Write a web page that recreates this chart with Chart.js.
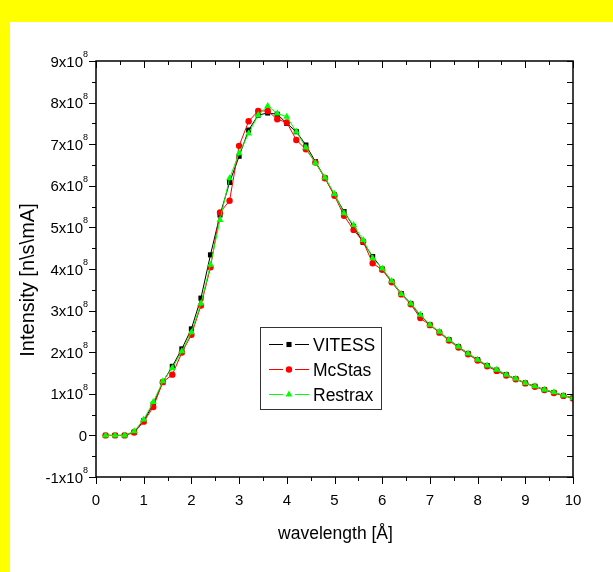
<!DOCTYPE html>
<html>
<head>
<meta charset="utf-8">
<title>Intensity vs wavelength</title>
<script src="https://cdn.jsdelivr.net/npm/chart.js@4/dist/chart.umd.min.js"></script>
<style>
  body { margin: 0; background: #fff; }
  canvas { display: block; }
</style>
</head>
<body>
<canvas id="grafico" width="613" height="572"></canvas>
<script>
// wavelength in Angstrom
var lambda = [0.2, 0.4, 0.6, 0.8, 1.0, 1.2, 1.4, 1.6, 1.8, 2.0,
              2.2, 2.4, 2.6, 2.8, 3.0, 3.2, 3.4, 3.6, 3.8, 4.0,
              4.2, 4.4, 4.6, 4.8, 5.0, 5.2, 5.4, 5.6, 5.8, 6.0,
              6.2, 6.4, 6.6, 6.8, 7.0, 7.2, 7.4, 7.6, 7.8, 8.0,
              8.2, 8.4, 8.6, 8.8, 9.0, 9.2, 9.4, 9.6, 9.8, 10.0];

// intensities in units of 1x10^8 n/s/mA
var vitess = [0.00, 0.00, 0.00, 0.08, 0.35, 0.75, 1.28, 1.66, 2.08, 2.56,
              3.30, 4.34, 5.30, 6.08, 6.71, 7.34, 7.70, 7.75, 7.72, 7.50,
              7.30, 6.98, 6.58, 6.19, 5.78, 5.38, 5.02, 4.64, 4.30, 4.00,
              3.70, 3.41, 3.17, 2.88, 2.66, 2.48, 2.30, 2.13, 1.97, 1.82,
              1.68, 1.57, 1.46, 1.36, 1.26, 1.18, 1.10, 1.03, 0.96, 0.90];

var mcstas = [0.00, 0.00, 0.00, 0.07, 0.33, 0.68, 1.28, 1.46, 1.99, 2.42,
              3.12, 4.04, 5.36, 5.64, 6.96, 7.55, 7.80, 7.80, 7.60, 7.52,
              7.10, 6.88, 6.56, 6.18, 5.76, 5.28, 4.94, 4.66, 4.14, 3.98,
              3.68, 3.39, 3.15, 2.82, 2.65, 2.47, 2.28, 2.11, 1.95, 1.80,
              1.66, 1.55, 1.44, 1.35, 1.25, 1.17, 1.09, 1.02, 0.95, 0.89];

var restrax = [0.00, 0.00, 0.00, 0.10, 0.38, 0.80, 1.30, 1.62, 2.02, 2.48,
               3.17, 4.10, 5.18, 6.18, 6.78, 7.26, 7.70, 7.92, 7.74, 7.66,
               7.30, 6.92, 6.55, 6.20, 5.80, 5.34, 5.06, 4.70, 4.26, 4.01,
               3.71, 3.40, 3.17, 2.90, 2.66, 2.49, 2.30, 2.13, 1.97, 1.82,
               1.68, 1.58, 1.46, 1.36, 1.26, 1.18, 1.10, 1.04, 0.96, 0.90];

var xTicks = [0, 1, 2, 3, 4, 5, 6, 7, 8, 9, 10];
var yTicks = [-1, 0, 1, 2, 3, 4, 5, 6, 7, 8, 9];
var nombres = ['VITESS', 'McStas', 'Restrax'];

var fuente = "'Liberation Sans', Arial, sans-serif";

function puntos(valores) {
    return lambda.map(function (x, i) { return { x: x, y: valores[i] }; });
}

// fondo con el marco amarillo
var fondo = {
    id: 'fondo',
    beforeDraw: function (chart) {
        var ctx = chart.ctx;
        ctx.save();
        ctx.fillStyle = '#ffffff';
        ctx.fillRect(0, 0, chart.width, chart.height);
        ctx.fillStyle = '#ffff00';
        ctx.fillRect(0, 0, chart.width, 22);
        ctx.fillRect(0, 0, 10, chart.height);
        ctx.restore();
    }
};

// caja, marcas, etiquetas y leyenda
var ejes = {
    id: 'ejes',
    afterDraw: function (chart) {
        var ctx = chart.ctx;
        var a = chart.chartArea;
        var sx = chart.scales.x, sy = chart.scales.y;
        ctx.save();
        ctx.strokeStyle = '#000';
        ctx.lineWidth = 1.5;
        ctx.strokeRect(a.left, a.top, a.right - a.left, a.bottom - a.top);

        ctx.lineWidth = 1;
        ctx.beginPath();
        for (var v = 0; v <= 10; v += 0.5) {
            var px = Math.round(sx.getPixelForValue(v)) + 0.5;
            var largo = (v % 1 === 0) ? 7 : 4;
            ctx.moveTo(px, a.bottom); ctx.lineTo(px, a.bottom + largo);
            ctx.moveTo(px, a.top); ctx.lineTo(px, a.top + largo);
        }
        for (var w = -1; w <= 9; w += 0.5) {
            var py = Math.round(sy.getPixelForValue(w)) + 0.5;
            var l2 = (w % 1 === 0) ? 7 : 4;
            ctx.moveTo(a.left, py); ctx.lineTo(a.left - l2, py);
            ctx.moveTo(a.right, py); ctx.lineTo(a.right - 6, py);
        }
        ctx.stroke();

        ctx.fillStyle = '#000';
        ctx.font = '15px ' + fuente;
        ctx.textAlign = 'center';
        ctx.textBaseline = 'alphabetic';
        xTicks.forEach(function (t) {
            ctx.fillText(String(t), sx.getPixelForValue(t), a.bottom + 28);
        });

        // etiquetas del eje y con exponente
        yTicks.forEach(function (t) {
            var py = sy.getPixelForValue(t);
            ctx.textAlign = 'left';
            if (t === 0) {
                ctx.font = '15px ' + fuente;
                var w0 = ctx.measureText('0').width;
                ctx.fillText('0', 87 - w0, py + 5.5);
                return;
            }
            var base = t + 'x10';
            ctx.font = '9px ' + fuente;
            var ws = ctx.measureText('8').width;
            ctx.font = '15px ' + fuente;
            var wb = ctx.measureText(base).width;
            ctx.fillText(base, 88 - ws - wb, py + 5.5);
            ctx.font = '9px ' + fuente;
            ctx.fillText('8', 88 - ws, py - 4);
        });

        // titulos
        ctx.font = '17.5px ' + fuente;
        ctx.textAlign = 'center';
        ctx.fillText('wavelength [\u00C5]', (a.left + a.right) / 2 + 1, 539);
        ctx.save();
        ctx.translate(34, 280);
        ctx.rotate(-Math.PI / 2);
        ctx.font = '20px ' + fuente;
        ctx.fillText('Intensity [n\\s\\mA]', 0, 0);
        ctx.restore();

        // leyenda
        ctx.strokeStyle = '#333';
        ctx.lineWidth = 1;
        ctx.strokeRect(260.5, 327.5, 121, 82);
        ctx.font = '17.5px ' + fuente;
        ctx.textAlign = 'left';
        chart.data.datasets.forEach(function (ds, i) {
            var ly = 344.5 + i * 25;
            ctx.strokeStyle = ds.borderColor;
            ctx.lineWidth = 1;
            ctx.beginPath();
            ctx.moveTo(269, ly); ctx.lineTo(283, ly);
            ctx.moveTo(295, ly); ctx.lineTo(309, ly);
            ctx.stroke();
            ctx.fillStyle = ds.pointBackgroundColor;
            ctx.strokeStyle = ds.pointBorderColor;
            Chart.helpers.drawPoint(ctx, {
                pointStyle: ds.pointStyle, radius: ds.pointRadius,
                rotation: 0, borderWidth: 0
            }, 289, ly);
            ctx.fillStyle = '#000';
            ctx.fillText(nombres[i], 313, ly + 6.8);
        });
        ctx.restore();
    }
};

var ctx = document.getElementById('grafico').getContext('2d');
window.graficoIntensidad = new Chart(ctx, {
    type: 'line',
    data: {
        datasets: [{
            label: nombres[0],
            data: puntos(vitess),
            borderColor: '#000000',
            borderWidth: 1,
            pointStyle: 'rect',
            pointRadius: 3.6,
            pointBackgroundColor: '#000000',
            pointBorderColor: '#000000',
            pointBorderWidth: 0,
            order: 2
        }, {
            label: nombres[1],
            data: puntos(mcstas),
            borderColor: '#ff0000',
            borderWidth: 1,
            pointStyle: 'circle',
            pointRadius: 3.2,
            pointBackgroundColor: '#ff0000',
            pointBorderColor: '#ff0000',
            pointBorderWidth: 0,
            order: 1
        }, {
            label: nombres[2],
            data: puntos(restrax),
            borderColor: '#00ff00',
            borderWidth: 1,
            pointStyle: 'triangle',
            pointRadius: 4,
            pointBackgroundColor: '#00ff00',
            pointBorderColor: '#00ff00',
            pointBorderWidth: 0,
            order: 0
        }]
    },
    options: {
        responsive: false,
        animation: false,
        devicePixelRatio: 1,
        layout: { padding: { left: 96, top: 61, right: 40, bottom: 95 } },
        elements: { line: { tension: 0 } },
        plugins: {
            legend: { display: false },
            tooltip: { enabled: false }
        },
        scales: {
            x: { type: 'linear', display: false, min: 0, max: 10 },
            y: { type: 'linear', display: false, min: -1, max: 9 }
        }
    },
    plugins: [fondo, ejes]
});
</script>
</body>
</html>
